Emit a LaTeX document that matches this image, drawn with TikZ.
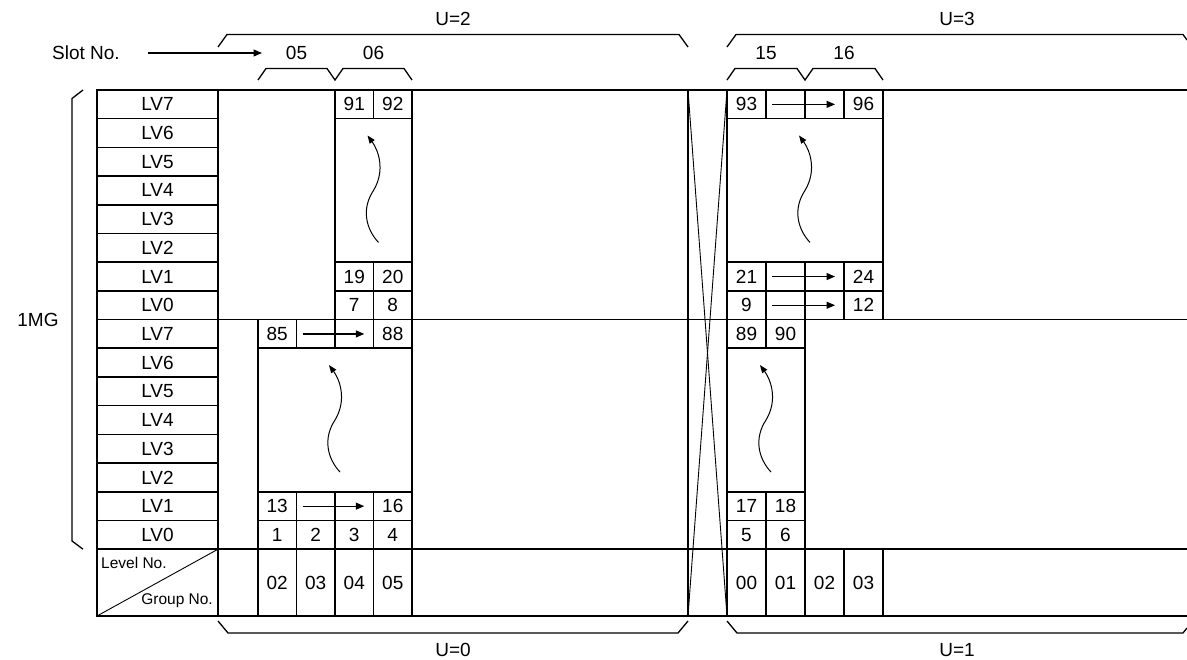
\documentclass[tikz,border=0pt]{standalone}
\usepackage{fontspec}
\setmainfont{Liberation Sans}
\usetikzlibrary{arrows.meta}
\begin{document}
\begin{tikzpicture}[x=1pt,y=-1pt,
  thickln/.style={line width=2.6pt},
  gridln/.style={line width=1.6pt},
  thinln/.style={line width=0.9pt},
  brack/.style={line width=1.3pt},
  arr/.style={line width=1.2pt,-{Triangle[length=8.5pt,width=7pt]}},
  wavy/.style={line width=1pt,-{Triangle[length=8pt,width=6pt]}},
  txt/.style={inner sep=0pt,font=\fontsize{19}{22}\selectfont},
  small/.style={inner sep=0pt,font=\fontsize{15.5}{18}\selectfont},
  cell/.style={txt,minimum width=38.5pt,minimum height=28.7pt},
]
\useasboundingbox (0,0) rectangle (1187,660);

% ---------- outer border ----------
\draw[thickln] (1187,90) -- (97,90) -- (97,616) -- (1187,616);

% ---------- main grid lines ----------
\draw[gridln] (218,90) -- (218,616);
\draw[gridln] (412,90) -- (412,616);
\draw[gridln] (97,319.6) -- (1187,319.6);
\draw[gridln] (97,549.2) -- (1187,549.2);
\draw[gridln] (688,90) -- (688,616);
\draw[gridln] (727,90) -- (727,616);

% LV column row lines
\foreach \k in {1,...,7,9,10,...,15}
  \draw[gridln] (97,{90+28.7*\k}) -- (218,{90+28.7*\k});

% LV labels
\foreach \k in {0,...,15}{
  \pgfmathtruncatemacro\lv{mod(15-\k,8)}
  \node[txt] (lv\k) at (157.5,{90+28.7*(\k+0.5)}) {LV\lv};
}

% ---------- upper-left block (slot 06, U=2) ----------
\draw[gridln] (335,90) -- (335,319.6);
\foreach \y in {118.7,262.2,290.9} \draw[gridln] (335,\y) -- (412,\y);
\draw[gridln] (373.5,90) -- (373.5,118.7);
\draw[gridln] (373.5,262.2) -- (373.5,319.6);

% ---------- lower-left block ----------
\draw[gridln] (258,319.6) -- (258,616);
\foreach \y in {348.3,491.8,520.5} \draw[gridln] (258,\y) -- (412,\y);
\foreach \x in {296.5,335,373.5}{
  \draw[gridln] (\x,319.6) -- (\x,348.3);
  \draw[gridln] (\x,491.8) -- (\x,616);
}

% ---------- upper-right block ----------
\draw[gridln] (883,90) -- (883,319.6);
\foreach \y in {118.7,262.2,290.9} \draw[gridln] (727,\y) -- (883,\y);
\foreach \x in {766,805,844}{
  \draw[gridln] (\x,90) -- (\x,118.7);
  \draw[gridln] (\x,262.2) -- (\x,319.6);
}

% ---------- lower-right block ----------
\draw[gridln] (805,319.6) -- (805,616);
\foreach \y in {348.3,491.8,520.5} \draw[gridln] (727,\y) -- (805,\y);
\draw[gridln] (766,319.6) -- (766,348.3);
\draw[gridln] (766,491.8) -- (766,616);
\draw[gridln] (844,549.2) -- (844,616);
\draw[gridln] (883,549.2) -- (883,616);

% ---------- crossing lines ----------
\draw[thinln] (688,90) -- (727,616);
\draw[thinln] (727,90) -- (688,616);

% ---------- header diagonal ----------
\draw[thinln] (97,616) -- (218,549.2);
\node[small,anchor=west] (lvlno) at (101,563) {Level No.};
\node[small,anchor=east] (grpno) at (213,601) {Group No.};

% ---------- cell texts ----------
\node[cell] (c91) at (354.25,104.35) {91};
\node[cell] (c92) at (392.75,104.35) {92};
\node[cell] (c19) at (354.25,276.55) {19};
\node[cell] (c20) at (392.75,276.55) {20};
\node[cell] (c7)  at (354.25,305.25) {7};
\node[cell] (c8)  at (392.75,305.25) {8};

\node[cell] (c85) at (277.25,333.95) {85};
\node[cell] (c88) at (392.75,333.95) {88};
\node[cell] (c13) at (277.25,506.15) {13};
\node[cell] (c16) at (392.75,506.15) {16};
\node[cell] (c1)  at (277.25,534.85) {1};
\node[cell] (c2)  at (315.75,534.85) {2};
\node[cell] (c3)  at (354.25,534.85) {3};
\node[cell] (c4)  at (392.75,534.85) {4};

\node[cell] (g02) at (277.25,582.6) {02};
\node[cell] (g03) at (315.75,582.6) {03};
\node[cell] (g04) at (354.25,582.6) {04};
\node[cell] (g05) at (392.75,582.6) {05};

\node[cell] (c93) at (746.5,104.35) {93};
\node[cell] (c96) at (863.5,104.35) {96};
\node[cell] (c21) at (746.5,276.55) {21};
\node[cell] (c24) at (863.5,276.55) {24};
\node[cell] (c9)  at (746.5,305.25) {9};
\node[cell] (c12) at (863.5,305.25) {12};

\node[cell] (c89) at (746.5,333.95) {89};
\node[cell] (c90) at (785.5,333.95) {90};
\node[cell] (c17) at (746.5,506.15) {17};
\node[cell] (c18) at (785.5,506.15) {18};
\node[cell] (c5)  at (746.5,534.85) {5};
\node[cell] (c6)  at (785.5,534.85) {6};

\node[cell] (h00) at (746.5,582.6) {00};
\node[cell] (h01) at (785.5,582.6) {01};
\node[cell] (h02) at (824.5,582.6) {02};
\node[cell] (h03) at (863.5,582.6) {03};

% ---------- horizontal cell arrows ----------
\foreach \a/\b in {c85/c88,c13/c16,c93/c96,c21/c24,c9/c12}
  \draw[arr,shorten <=6pt,shorten >=9pt] (\a.east) -- (\b.west);

% ---------- wavy arrows ----------
\foreach \cx/\cy in {373.5/190.45,335/420.05,805/190.45,766/420.05}{
  \begin{scope}[shift={(\cx,\cy)}]
    \draw[wavy] (5,52) .. controls (-8,38) and (-12,18) .. (0,0)
                .. controls (12,-20) and (5,-40) .. (-6,-55);
  \end{scope}
}

% ---------- Slot No. ----------
\node[txt] (slot) at (86,53) {Slot No.};
\coordinate (s1) at (148,53);
\coordinate (s2) at (262,53);
\draw[arr] (s1) -- (s2);
\node[txt] (s05) at (296.5,53) {05};
\node[txt] (s06) at (373.5,53) {06};
\node[txt] (s15) at (766,53) {15};
\node[txt] (s16) at (844,53) {16};
\draw[brack] (258,80) -- (266,68.5) -- (327,68.5) -- (335,80) -- (343,68.5) -- (404,68.5) -- (412,80);
\draw[brack] (727,80) -- (735,68.5) -- (797,68.5) -- (805,80) -- (813,68.5) -- (875,68.5) -- (883,80);

% ---------- U brackets ----------
\draw[brack] (218,47) -- (227,34.5) -- (679,34.5) -- (688,47);
\draw[brack] (727,47) -- (736,34.5) -- (1183,34.5) -- (1187,40);
\node[txt] (u2) at (453,19) {U=2};
\node[txt] (u3) at (957,19) {U=3};

\draw[brack] (218,621) -- (228,633) -- (678,633) -- (688,621);
\draw[brack] (727,621) -- (737,633) -- (1183,633) -- (1187,628);
\node[txt] (u0) at (453,650) {U=0};
\node[txt] (u1) at (957,650) {U=1};

% ---------- 1MG brace ----------
\draw[brack] (83,90) -- (72,98.5) -- (72,541) -- (83,549.2);
\node[txt] (mg) at (38,320) {1MG};
\end{tikzpicture}
\end{document}
